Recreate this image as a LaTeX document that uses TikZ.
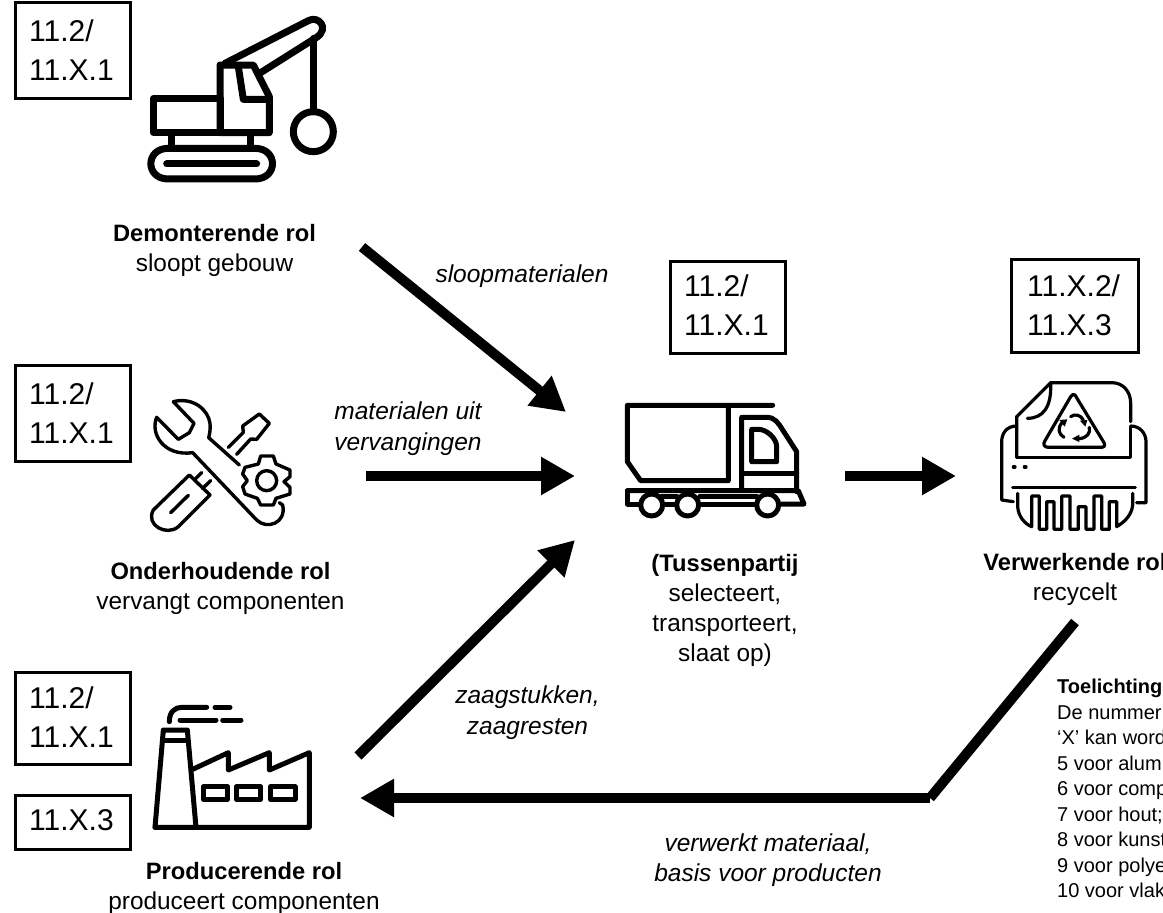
\documentclass[tikz,border=0pt]{standalone}
\usepackage{fontspec}
\setmainfont{Liberation Sans}
\usetikzlibrary{arrows.meta}
\newcommand{\rolehead}[1]{{\fontsize{23.7}{30}\selectfont\bfseries #1}}
\tikzset{
  x=1pt,y=-1pt,
  codebox/.style={draw=black,line width=3pt,fill=white,inner sep=0pt},
  codetext/.style={anchor=west,align=left,inner sep=0pt,font=\fontsize{30}{39}\selectfont},
  rolelabel/.style={align=center,inner sep=0pt,font=\fontsize{24.4}{30}\selectfont},
  flowlabel/.style={align=center,inner sep=0pt,font=\fontsize{24.5}{30.5}\selectfont\itshape},
  notetext/.style={anchor=north west,align=left,inner sep=0pt,font=\fontsize{20}{25.5}\selectfont},
  flow/.style={line width=10pt,draw=black,-{Triangle[length=34pt,width=36pt]}},
  flowplain/.style={line width=10pt,draw=black,line join=miter},
  icon/.style={draw=black,line join=round,line cap=round,fill=none},
}
\begin{document}
\begin{tikzpicture}
\useasboundingbox (0,0) rectangle (1163,913);
\fill[white] (0,0) rectangle (1163,913);

% code boxes
\node[codebox,minimum width=115pt,minimum height=96pt] (b1) at (72.5,50) {};
\node[codetext] (t1) at (29,50) {11.2/\\11.X.1};
\node[codebox,minimum width=115pt,minimum height=96pt] (b2) at (72.5,413) {};
\node[codetext] (t2) at (29,413) {11.2/\\11.X.1};
\node[codebox,minimum width=115pt,minimum height=92pt] (b3) at (72.5,718) {};
\node[codetext] (t3) at (29,717) {11.2/\\11.X.1};
\node[codebox,minimum width=115pt,minimum height=54pt] (b4) at (72.5,822) {};
\node[codetext] (t4) at (29,820) {11.X.3};
\node[codebox,minimum width=115pt,minimum height=92pt] (b5) at (728,307) {};
\node[codetext] (t5) at (684,305) {11.2/\\11.X.1};
\node[codebox,minimum width=127pt,minimum height=93pt] (b6) at (1075,306) {};
\node[codetext] (t6) at (1027,305) {11.X.2/\\11.X.3};

% crane
\begin{scope}[shift={(130,0)},scale=1/3,icon,line width=7pt]
  \draw (70,295) rectangle (270,398);
  \draw (270,398) -- (270,195) -- (370,195) -- (418,290) -- (418,398) -- cycle;
  \draw (325,200) -- (340,298) -- (418,298);
  \draw (125,405) -- (125,445);
  \draw (362,405) -- (362,445);
  \draw (115,445) -- (375,445) .. controls (445,445) and (445,537) .. (375,537) -- (115,537) .. controls (45,537) and (45,445) .. (115,445) -- cycle;
  \draw (110,492) -- (380,492);
  \draw (285,190) -- (535,62) .. controls (565,45) and (600,85) .. (560,112) -- (392,218);
  \draw (552,115) -- (552,335);
  \draw (550,395) circle[radius=60];
\end{scope}

% tools
\begin{scope}[shift={(130,390)},scale=1/3,icon,line width=3.4pt]
  \draw (130,35) .. controls (190,20) and (235,60) .. (240,100) .. controls (242,120) and (238,135) .. (236,143) -- (328,225);
  \draw (130,35) -- (192,100) -- (178,128) -- (145,148) -- (80,82) .. controls (60,130) and (100,200) .. (188,188) -- (380,390) .. controls (410,420) and (470,400) .. (458,345) -- (448,338);
  \draw (295,172) -- (340,127) -- (338,108) -- (388,72) -- (418,100) -- (380,148) -- (362,147) -- (320,193);
  \draw (178,255) -- (240,315) -- (145,410) .. controls (110,440) and (45,405) .. (70,360) -- cycle;
  \draw (122,368) -- (175,316);
  \draw (193,270) -- (215,248);
  \draw (218,295) -- (242,272);
  \draw (410,272) circle[radius=30];
  \draw (385,222) -- (392,198) -- (430,198) -- (438,222) -- (480,240) -- (480,260) -- (462,275) -- (480,292) -- (480,312) -- (438,325) -- (430,345) -- (392,345) -- (382,325) -- (345,312) -- (338,290) -- (352,272) -- (338,252) -- (345,232) -- cycle;
\end{scope}

% truck
\begin{scope}[shift={(610,390)},scale=1/3,icon,line width=5pt]
  \draw (488,46) -- (52,46) -- (52,215) -- (92,272) -- (355,272) -- (355,46);
  \draw (395,298) -- (395,82) -- (470,82) .. controls (495,82) and (505,100) .. (515,115) -- (560,185) -- (560,305);
  \draw (425,118) -- (425,215) -- (500,215) -- (500,170) .. controls (500,145) and (470,118) .. (445,118) -- cycle;
  \draw (395,250) -- (560,250);
  \draw (52,302) -- (565,302) -- (582,342) -- (510,342);
  \draw (52,302) -- (52,342) -- (85,342);
  \draw (160,342) -- (195,342);
  \draw (270,342) -- (435,342);
  \draw (155,318) -- (200,318);
  \draw (270,318) -- (440,318);
  \draw (125,345) circle[radius=33];
  \draw (233,345) circle[radius=33];
  \draw (473,345) circle[radius=33];
\end{scope}

% shredder
\begin{scope}[shift={(980,370)},scale=1/3,icon,line width=3.2pt]
  \draw (110,262) -- (110,140) -- (212,38) -- (395,38) .. controls (430,38) and (452,65) .. (452,100) -- (452,155);
  \draw (212,40) .. controls (215,110) and (190,145) .. (142,145);
  \draw (110,262) -- (452,262) -- (452,170);
  \draw (110,168) .. controls (80,168) and (65,190) .. (65,215) -- (65,390) -- (100,395);
  \draw (452,168) .. controls (480,168) and (498,190) .. (498,215) -- (498,398) -- (470,398);
  \draw (98,352) -- (466,352);
  \draw (100,291) -- (105,291);
  \draw (133,291) -- (138,291);
  \draw (285,75) -- (372,218) .. controls (378,230) and (370,232) .. (360,232) -- (205,232) .. controls (192,232) and (188,222) .. (195,212) -- (272,80) .. controls (276,72) and (282,72) .. (285,75) -- cycle;
  \draw (252,202) .. controls (235,192) and (232,175) .. (246,158);
  \fill (238,150) -- (262,148) -- (254,170) -- cycle;
  \draw (272,140) .. controls (285,130) and (302,135) .. (310,150);
  \fill (300,152) -- (322,150) -- (316,170) -- cycle;
  \draw (328,172) .. controls (332,190) and (320,205) .. (296,206);
  \fill (298,194) -- (276,206) -- (298,216) -- cycle;
  \draw (113,370) -- (113,410) .. controls (115,440) and (135,462) .. (155,470) -- (155,378) -- (178,378) -- (178,478) -- (200,478) -- (200,395) -- (222,395) -- (222,478) -- (245,478) -- (245,378) -- (270,378) -- (270,478) -- (295,478) -- (295,410) -- (318,410) -- (318,478) -- (342,478) -- (342,378) -- (365,378) -- (365,478) -- (388,478) -- (388,395) -- (410,395) -- (410,470) .. controls (435,455) and (455,435) .. (458,405) -- (458,370);
\end{scope}

% factory
\begin{scope}[shift={(140,690)},scale=1/3,icon,line width=5pt]
  \draw (45,412) -- (70,120) -- (142,120) -- (168,412);
  \draw (72,150) -- (142,150);
  \draw (45,412) -- (508,412) -- (508,188) -- (388,240) -- (388,188) -- (265,240) -- (265,188) -- (158,238);
  \draw (190,290) rectangle (262,328);
  \draw (290,290) rectangle (362,328);
  \draw (392,290) rectangle (465,328);
  \draw (88,95) .. controls (88,65) and (105,52) .. (125,52) -- (200,52);
  \draw (225,52) -- (270,52);
  \draw (120,90) -- (228,90);
  \draw (248,90) -- (303,90);
\end{scope}

% role labels
\node[rolelabel] (r1) at (214.5,250) {\rolehead{Demonterende rol}\\sloopt gebouw};
\node[rolelabel] (r2) at (220.5,588) {\rolehead{Onderhoudende rol}\\vervangt componenten};
\node[rolelabel] (r3) at (244,888) {\rolehead{Producerende rol}\\produceert componenten};
\node[rolelabel] (r4) at (725,610) {\rolehead{(Tussenpartij}\\selecteert,\\transporteert,\\slaat op)};
\node[rolelabel] (r5) at (1075,579.5) {\rolehead{Verwerkende rol}\\recycelt};

% flow labels
\node[flowlabel] (f1) at (522,276) {sloopmaterialen};
\node[flowlabel] (f2) at (408,428.5) {materialen uit\\vervangingen};
\node[flowlabel] (f3) at (527.5,712.5) {zaagstukken,\\zaagresten};
\node[flowlabel] (f4) at (768,860) {verwerkt materiaal,\\basis voor producten};

% note
\node[notetext] (n) at (1057,679) {\textbf{Toelichting}\\De nummer\\‘X’ kan word\\5 voor alum\\6 voor comp\\7 voor hout;\\8 voor kunst\\9 voor polye\\10 voor vlak};

% connectors
\coordinate (a1s) at (362,247); \coordinate (a1e) at (566,412);
\coordinate (a2s) at (366,476); \coordinate (a2e) at (575,476);
\coordinate (a3s) at (358,756); \coordinate (a3e) at (575,540);
\coordinate (a4s) at (845,476); \coordinate (a4e) at (956,476);
\coordinate (a5s) at (1075,622); \coordinate (a5m) at (930,798); \coordinate (a5e) at (360,798);
\draw[flow] (a1s) -- (a1e);
\draw[flow] (a2s) -- (a2e);
\draw[flow] (a3s) -- (a3e);
\draw[flow] (a4s) -- (a4e);
\draw[flowplain] (a5s) -- (a5m);
\draw[flow] (a5m) -- (a5e);
\end{tikzpicture}
\end{document}
